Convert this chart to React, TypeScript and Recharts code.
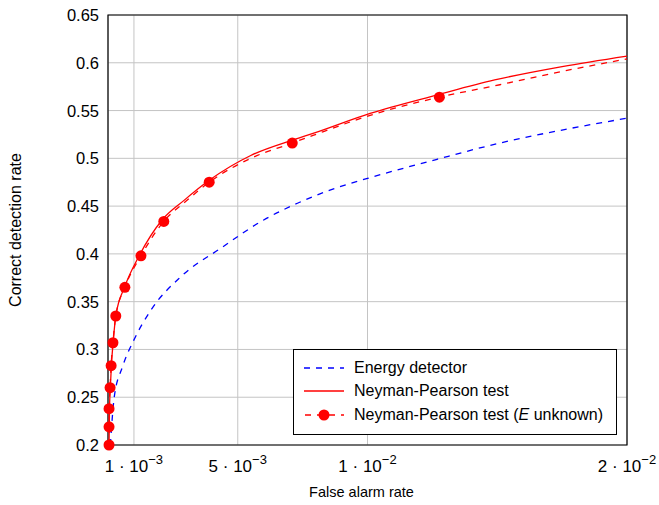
import { ComposedChart, Line, Scatter, XAxis, YAxis, CartesianGrid, ReferenceArea, Legend } from 'recharts'

const FONT = '"Liberation Sans", Arial, Helvetica, sans-serif'

// Energy detector (blue, dashed)
const energyX = [0.00009, 0.00024, 0.00056, 0.001, 0.00165, 0.0028, 0.00435, 0.006, 0.0073, 0.00858, 0.01, 0.01268, 0.0151, 0.01776, 0.02]
const energyY = [0.2, 0.25, 0.282, 0.31, 0.341, 0.376, 0.406, 0.4355, 0.453, 0.467, 0.479, 0.499, 0.516, 0.531, 0.542]

// Neyman-Pearson test (red, solid)
const npX = [0.00004, 0.00005, 0.00006, 0.00009, 0.00013, 0.0002, 0.0003, 0.00065, 0.0012, 0.0021, 0.00293, 0.0039, 0.0055, 0.0071, 0.0079, 0.0101, 0.0127, 0.0149, 0.0175, 0.02]
const npY = [0.2, 0.22, 0.24, 0.26, 0.283, 0.308, 0.335, 0.366, 0.398, 0.436, 0.456, 0.477, 0.503, 0.519, 0.526, 0.547, 0.5665, 0.582, 0.596, 0.607]

// Neyman-Pearson test, E unknown (red, dashed, with marks)
const npuX = [0.00004, 0.000041, 0.000042, 0.00008, 0.00012, 0.00019, 0.0003, 0.00065, 0.00127, 0.00215, 0.003, 0.0039, 0.0055, 0.0071, 0.0079, 0.0101, 0.01277, 0.0151, 0.0175, 0.02]
const npuY = [0.2, 0.219, 0.238, 0.26, 0.283, 0.307, 0.335, 0.365, 0.398, 0.434, 0.455, 0.475, 0.5, 0.516, 0.524, 0.545, 0.564, 0.577, 0.591, 0.604]
const markX = [0.00004, 0.00004, 0.00004, 0.00008, 0.00012, 0.00019, 0.0003, 0.00065, 0.00127, 0.00215, 0.0039, 0.0071, 0.01277]
const markY = [0.2, 0.219, 0.238, 0.26, 0.283, 0.307, 0.335, 0.365, 0.398, 0.434, 0.475, 0.516, 0.564]

const xTicks = [0.001, 0.005, 0.01, 0.02]
const xTickBase = ['1', '5', '1', '2']
const xTickExp = ['−3', '−3', '−2', '−2']
const yTicks = [0.2, 0.25, 0.3, 0.35, 0.4, 0.45, 0.5, 0.55, 0.6, 0.65]
const yTickLabels = ['0.2', '0.25', '0.3', '0.35', '0.4', '0.45', '0.5', '0.55', '0.6', '0.65']

const seriesNames = ['Energy detector', 'Neyman-Pearson test', 'Neyman-Pearson test (', 'E', ' unknown)']

const zip = (xs: number[], ys: number[]) => xs.map((x, i) => ({ x, y: ys[i] }))
const energyData = zip(energyX, energyY)
const npData = zip(npX, npY)
const npuData = zip(npuX, npuY)
const markData = zip(markX, markY)

const XTick = (props: any) => {
  const { x, y, payload } = props
  const i = xTicks.indexOf(payload.value)
  return (
    <text x={x} y={y + 19} textAnchor="middle" fontFamily={FONT} fontSize={17} fill="#000">
      {xTickBase[i]} · 10
      <tspan dy={-8} fontSize={13}>{xTickExp[i]}</tspan>
    </text>
  )
}

const YTick = (props: any) => {
  const { x, y, payload } = props
  const i = yTicks.indexOf(payload.value)
  return (
    <text x={x - 1} y={y + 6} textAnchor="end" fontFamily={FONT} fontSize={16.5} fill="#000">
      {yTickLabels[i]}
    </text>
  )
}

const LegendBox = () => (
  <div style={{ border: '1px solid #000', background: '#fff', width: 322, height: 84, fontFamily: FONT, fontSize: 16, boxSizing: 'content-box' }}>
    {[0, 1, 2].map((r) => (
      <div key={r} style={{ display: 'flex', alignItems: 'center', height: 23.5, marginTop: r === 0 ? 6 : 0 }}>
        <svg width={60} height={14} style={{ flex: 'none' }}>
          {r === 0 && <line x1={10} y1={7} x2={50} y2={7} stroke="#0000ff" strokeWidth={1.3} strokeDasharray="6 6" />}
          {r === 1 && <line x1={10} y1={7} x2={50} y2={7} stroke="#ff0000" strokeWidth={1.3} />}
          {r === 2 && (
            <g>
              <line x1={10} y1={7} x2={50} y2={7} stroke="#ff0000" strokeWidth={1.3} strokeDasharray="6 6" strokeDashoffset={-1} />
              <circle cx={30} cy={7} r={5.5} fill="#ff0000" />
            </g>
          )}
        </svg>
        <span style={{ whiteSpace: 'nowrap' }}>
          {r === 0 && seriesNames[0]}
          {r === 1 && seriesNames[1]}
          {r === 2 && (
            <>
              {seriesNames[2]}
              <i>{seriesNames[3]}</i>
              {seriesNames[4]}
            </>
          )}
        </span>
      </div>
    ))}
  </div>
)

export default function App() {
  return (
    <div style={{ position: 'absolute', left: 0, top: 0, background: '#fff' }}>
      <ComposedChart width={659} height={505} margin={{ top: 15, right: 32, bottom: 0, left: 0 }}>
        <CartesianGrid stroke="#c4c4c4" strokeWidth={1} />
        <XAxis
          dataKey="x"
          type="number"
          domain={[0, 0.02]}
          ticks={xTicks}
          tick={<XTick />}
          tickLine={false}
          axisLine={false}
          height={60}
          label={{ value: 'False alarm rate', position: 'insideBottom', offset: 8, dx: -6, style: { fontFamily: FONT, fontSize: 14.5, fill: '#000' } }}
        />
        <YAxis
          dataKey="y"
          type="number"
          domain={[0.2, 0.65]}
          ticks={yTicks}
          tick={<YTick />}
          tickLine={false}
          axisLine={false}
          width={108}
          label={{ value: 'Correct detection rate', angle: -90, position: 'insideLeft', offset: 15, style: { textAnchor: 'middle', fontFamily: FONT, fontSize: 16, fill: '#000' } }}
        />
        <ReferenceArea x1={0} x2={0.02} y1={0.2} y2={0.65} fill="none" stroke="#000" strokeWidth={1.2} />
        <Line data={energyData} dataKey="y" type="monotone" stroke="#0000ff" strokeWidth={1.3} strokeDasharray="6 6" dot={false} isAnimationActive={false} />
        <Line data={npData} dataKey="y" type="monotone" stroke="#ff0000" strokeWidth={1.3} dot={false} isAnimationActive={false} />
        <Line data={npuData} dataKey="y" type="monotone" stroke="#ff0000" strokeWidth={1.3} strokeDasharray="6 6" dot={false} isAnimationActive={false} />
        <Scatter
          data={markData}
          dataKey="y"
          fill="#ff0000"
          isAnimationActive={false}
          shape={(p: any) => <circle cx={p.cx} cy={p.cy} r={5.5} fill="#ff0000" />}
        />
        <Legend
          layout="vertical"
          align="center"
          verticalAlign="middle"
          wrapperStyle={{ left: 293, top: 349, width: 324 }}
          content={<LegendBox />}
        />
      </ComposedChart>
    </div>
  )
}
